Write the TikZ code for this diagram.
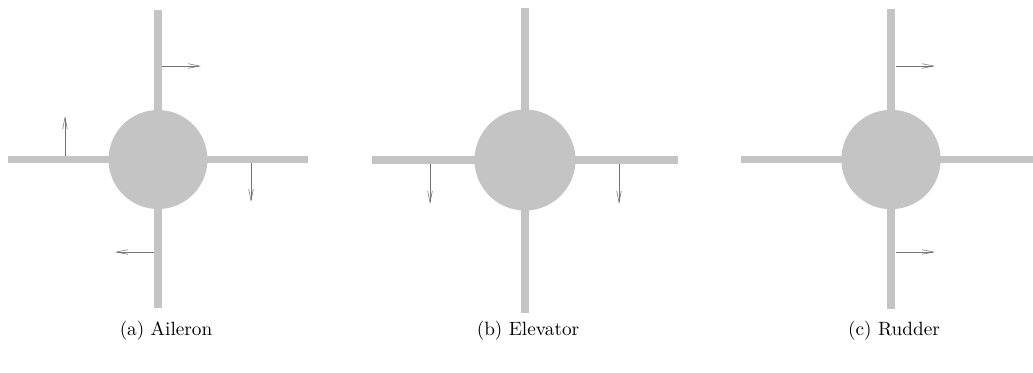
\documentclass[tikz,border=0pt]{standalone}
\usetikzlibrary{arrows.meta}
\definecolor{surf}{RGB}{196,196,196}
\tikzset{
  bar/.style={draw=surf,line width=4.1pt},
  hub/.style={fill=surf},
  move/.style={draw=black!55,line width=.3pt,-{Straight Barb[length=6pt,width=2.4pt]}}
}
\begin{document}
\begin{tikzpicture}[x=.52pt,y=-.52pt]
\useasboundingbox (0,0) rectangle (1033,372);
% (a) aileron
\draw [bar] (158,10) -- (158,308);
\draw [bar] (8,159.5) -- (308,159.5);
\fill [hub] (158,159.5) circle (49.5);
\coordinate (A1) at (162,66);
\coordinate (A2) at (201,66);
\coordinate (A3) at (65,156);
\coordinate (A4) at (65,116);
\coordinate (A5) at (251,163);
\coordinate (A6) at (251,202);
\coordinate (A7) at (154,252);
\coordinate (A8) at (115,252);
\draw [move] (A1) -- (A2);
\draw [move] (A3) -- (A4);
\draw [move] (A5) -- (A6);
\draw [move] (A7) -- (A8);
\node (capa) at (166,331){(a) Aileron};
% (b) elevator
\draw [bar] (525,8) -- (525,313);
\draw [bar] (372,160) -- (678,160);
\fill [hub] (525,160) circle (50.5);
\coordinate (B1) at (430,164);
\coordinate (B2) at (430,204);
\coordinate (B3) at (619,164);
\coordinate (B4) at (619,204);
\draw [move] (B1) -- (B2);
\draw [move] (B3) -- (B4);
\node (capb) at (528,331){(b) Elevator};
% (c) rudder
\draw [bar] (891,9) -- (891,309);
\draw [bar] (741,159.5) -- (1040,159.5);
\fill [hub] (891,159.5) circle (49.7);
\coordinate (C1) at (896,66);
\coordinate (C2) at (935,66);
\coordinate (C3) at (896,252);
\coordinate (C4) at (935,252);
\draw [move] (C1) -- (C2);
\draw [move] (C3) -- (C4);
\node (capc) at (894,331){(c) Rudder};
\end{tikzpicture}
\end{document}
